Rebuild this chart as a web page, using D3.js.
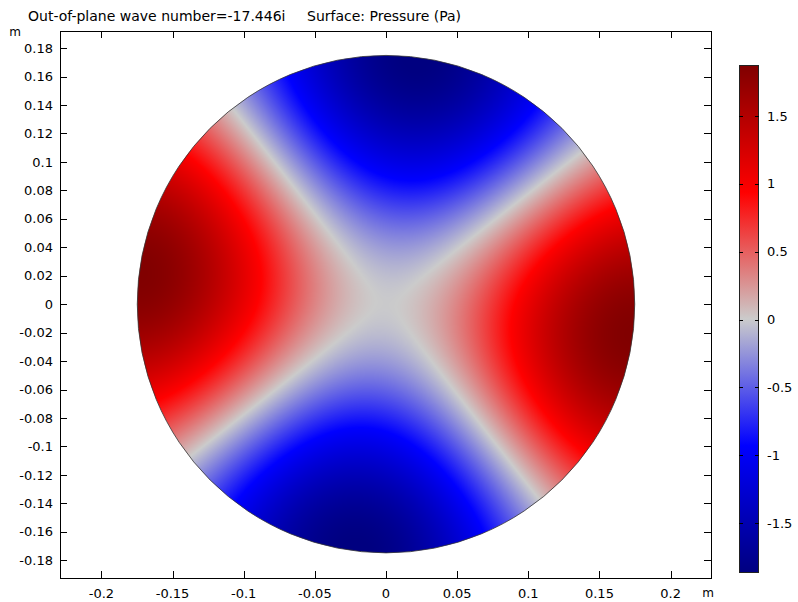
<!DOCTYPE html>
<html>
<head>
<meta charset="utf-8">
<script src="https://cdn.jsdelivr.net/npm/d3@7"></script>
<style>
  html, body { margin: 0; padding: 0; background: #fff; }
  svg text { font-family: "DejaVu Sans", sans-serif; fill: #000; }
</style>
</head>
<body>
<svg id="chart" width="798" height="602"></svg>
<script>
// ---- data ----
const titleParts = ["Out-of-plane wave number=-17.446i", "Surface: Pressure (Pa)"];
const xTicks = [-0.2, -0.15, -0.1, -0.05, 0, 0.05, 0.1, 0.15, 0.2];
const yTicks = [-0.18, -0.16, -0.14, -0.12, -0.1, -0.08, -0.06, -0.04, -0.02, 0, 0.02, 0.04, 0.06, 0.08, 0.1, 0.12, 0.14, 0.16, 0.18];
const xDomain = [-0.2291, 0.2284];
const yDomain = [-0.1925, 0.192];
const ductRadius = 0.1748;          // m
const modeOrder = [2];              // azimuthal order
const besselZero = [3.0542];        // first zero of J2'
const modePeak = [1.87];            // Pa at the wall
const modeAngleDeg = [-7];          // orientation of the pressure maximum
const colorRange = [-1.86, 1.875];
const colorTicks = [-1.5, -1, -0.5, 0, 0.5, 1, 1.5];
const waveColors = ["#000080", "#0000ff", "#cbcbcb", "#ff0000", "#800000"];

// ---- layout ----
const svg = d3.select("#chart");
const plot = { left: 60, right: 711, top: 31, bottom: 578 };
const x = d3.scaleLinear().domain(xDomain).range([plot.left, plot.right]);
const y = d3.scaleLinear().domain(yDomain).range([plot.bottom, plot.top]);

const cmin = colorRange[0], cmax = colorRange[1];
const color = d3.scaleLinear()
  .domain(waveColors.map((c, i) => cmin + (cmax - cmin) * i / (waveColors.length - 1)))
  .range(waveColors)
  .interpolate(d3.interpolateRgb)
  .clamp(true);

const fmt = v => {
  if (Math.abs(v) < 1e-9) return "0";
  return String(+v.toFixed(3)); // plain hyphen-minus like the reference
};

// Bessel J_n series
function besselJ(n, z) {
  let s = 0, term;
  let fact = 1; for (let i = 2; i <= n; i++) fact *= i;
  term = Math.pow(z / 2, n) / fact;
  for (let k = 0; k < 30; k++) {
    s += term;
    term *= -(z * z / 4) / ((k + 1) * (k + 1 + n));
  }
  return s;
}
const m = modeOrder[0];
const amp = modePeak[0] / besselJ(m, besselZero[0]);
const phi = modeAngleDeg[0] * Math.PI / 180;
function pressure(px, py) {
  const r = Math.hypot(px, py);
  const th = Math.atan2(py, px);
  return amp * besselJ(m, besselZero[0] * r / ductRadius) * Math.cos(m * (th - phi));
}

// ---- surface raster ----
const W = plot.right - plot.left, H = plot.bottom - plot.top;
const canvas = document.createElement("canvas");
canvas.width = W; canvas.height = H;
const ctx = canvas.getContext("2d");
const img = ctx.createImageData(W, H);
for (let j = 0; j < H; j++) {
  const py = y.invert(plot.top + j + 0.5);
  for (let i = 0; i < W; i++) {
    const px = x.invert(plot.left + i + 0.5);
    const idx = (j * W + i) * 4;
    const c = d3.rgb(color(pressure(px, py)));
    img.data[idx] = c.r; img.data[idx + 1] = c.g; img.data[idx + 2] = c.b; img.data[idx + 3] = 255;
  }
}
ctx.putImageData(img, 0, 0);

const defs = svg.append("defs");
defs.append("clipPath").attr("id", "disk")
  .append("circle")
  .attr("cx", x(0)).attr("cy", y(0))
  .attr("r", x(ductRadius) - x(0));

svg.append("image")
  .attr("x", plot.left).attr("y", plot.top)
  .attr("width", W).attr("height", H)
  .attr("clip-path", "url(#disk)")
  .attr("href", canvas.toDataURL());

svg.append("circle")
  .attr("cx", x(0)).attr("cy", y(0))
  .attr("r", x(ductRadius) - x(0))
  .attr("fill", "none").attr("stroke", "#333").attr("stroke-width", 0.8);

// ---- frame & axes ----
svg.append("rect")
  .attr("x", plot.left + 0.5).attr("y", plot.top + 0.5)
  .attr("width", W).attr("height", H)
  .attr("fill", "none").attr("stroke", "#000").attr("stroke-width", 1);

const tickLen = 7;
const fs = "13px";
const g = svg.append("g");
xTicks.forEach(t => {
  const px = Math.round(x(t)) + 0.5;
  g.append("line").attr("x1", px).attr("x2", px).attr("y1", plot.bottom).attr("y2", plot.bottom - tickLen).attr("stroke", "#000");
  g.append("line").attr("x1", px).attr("x2", px).attr("y1", plot.top).attr("y2", plot.top + tickLen).attr("stroke", "#000");
  g.append("text").attr("x", x(t)).attr("y", 598).attr("text-anchor", "middle").style("font-size", fs)
    .text(fmt(t));
});
yTicks.forEach(t => {
  const py = Math.round(y(t)) + 0.5;
  g.append("line").attr("x1", plot.left).attr("x2", plot.left + tickLen).attr("y1", py).attr("y2", py).attr("stroke", "#000");
  g.append("line").attr("x1", plot.right).attr("x2", plot.right - tickLen).attr("y1", py).attr("y2", py).attr("stroke", "#000");
  g.append("text").attr("x", 53).attr("y", y(t)).attr("dy", "0.36em").attr("text-anchor", "end").style("font-size", fs)
    .text(fmt(t));
});
svg.append("text").attr("x", 15).attr("y", 36).attr("text-anchor", "middle").style("font-size", "12px").text("m");
svg.append("text").attr("x", 708).attr("y", 597).attr("text-anchor", "middle").style("font-size", "12px").text("m");

// title
svg.append("text").attr("x", 28).attr("y", 21).style("font-size", "14px").text(titleParts[0]);
svg.append("text").attr("x", 307).attr("y", 21).style("font-size", "14px").text(titleParts[1]);

// ---- colour bar ----
const cb = { x: 739, w: 19, top: 65, bottom: 572 };
const cy = d3.scaleLinear().domain(colorRange).range([cb.bottom, cb.top]);
const grad = defs.append("linearGradient").attr("id", "cbgrad")
  .attr("x1", 0).attr("x2", 0).attr("y1", 1).attr("y2", 0);
waveColors.forEach((c, i) => {
  grad.append("stop").attr("offset", i / (waveColors.length - 1)).attr("stop-color", c);
});
svg.append("rect").attr("x", cb.x + 0.5).attr("y", cb.top + 0.5)
  .attr("width", cb.w).attr("height", cb.bottom - cb.top)
  .attr("fill", "url(#cbgrad)").attr("stroke", "#222").attr("stroke-width", 1);
colorTicks.forEach(t => {
  const py = Math.round(cy(t)) + 0.5;
  svg.append("line").attr("x1", cb.x).attr("x2", cb.x + 4).attr("y1", py).attr("y2", py).attr("stroke", "#000");
  svg.append("line").attr("x1", cb.x + cb.w + 1).attr("x2", cb.x + cb.w - 3).attr("y1", py).attr("y2", py).attr("stroke", "#000");
  svg.append("text").attr("x", 767).attr("y", cy(t)).attr("dy", "0.36em").style("font-size", fs).text(fmt(t));
});
</script>
</body>
</html>
